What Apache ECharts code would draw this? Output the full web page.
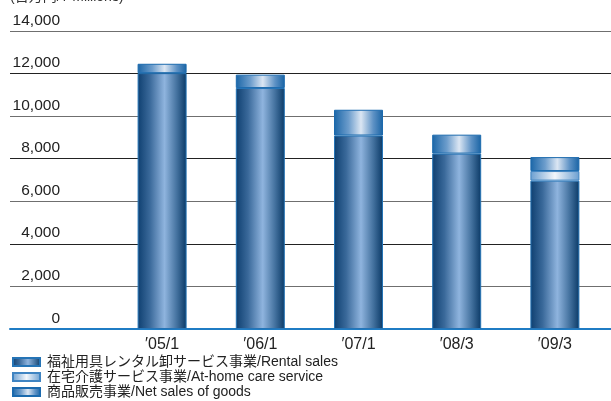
<!DOCTYPE html>
<html>
<head>
<meta charset="utf-8">
<script src="https://cdn.jsdelivr.net/npm/echarts@6/dist/echarts.min.js"></script>
<style>html,body{margin:0;padding:0;background:#fff;}#c{width:611px;height:401px;}</style>
</head>
<body>
<div id="c"></div>
<script>
const categories = ['′05/1', '′06/1', '′07/1', '′08/3', '′09/3'];
const rentalSales = [12020, 11320, 9090, 8240, 6970];
const homeCare = [null, null, null, null, 450];
const goodsSales = [440, 630, 1210, 890, 655];
const seriesNames = ['福祉用具レンタル卸サービス事業/Rental sales', '在宅介護サービス事業/At-home care service', '商品販売事業/Net sales of goods'];
const yMin = 0, yMax = 14000, yStep = 2000;

const FONT = '"Liberation Sans", Arial, "Noto Sans CJK JP", sans-serif';
function grad(stops) {
  return new echarts.graphic.LinearGradient(0, 0, 1, 0, stops.map(s => ({offset: s[0], color: s[1]})));
}
const rentalColor = grad([[0,'#0e3f70'],[0.25,'#3a699a'],[0.55,'#8fb4de'],[0.8,'#44729f'],[1,'#0a3966']]);
const homeColor = grad([[0,'#6a9ed0'],[0.5,'#f2f6fb'],[1,'#6a9ed0']]);
const goodsColor = grad([[0,'#1b66a7'],[0.3,'#6d9dcc'],[0.55,'#dbe6f3'],[0.8,'#5e92c5'],[1,'#1963a4']]);

const chart = echarts.init(document.getElementById('c'), null, {renderer: 'canvas'});
chart.setOption({
  animation: false,
  backgroundColor: '#fff',
  graphic: [{
    type: 'text', left: 10, top: -10,
    style: {text: '(百万円/¥ Millions)', fontSize: 14, fill: '#333', fontFamily: FONT}
  }],
  legend: {
    orient: 'vertical', left: 12, top: 355, padding: 0, height: 60,
    itemWidth: 27, itemHeight: 8, itemGap: 1,
    data: seriesNames,
    textStyle: {fontSize: 14, color: '#222', fontFamily: FONT, lineHeight: 14, padding: [0,0,0,2]},
    icon: 'rect', selectedMode: false
  },
  grid: [
    {left: 10, right: 0, top: 31, bottom: 72},
    {left: 113, right: 7, top: 31, bottom: 72}
  ],
  xAxis: [
    {type: 'category', gridIndex: 0, data: [''], axisTick: {show: false}, axisLabel: {show: false},
     axisLine: {lineStyle: {color: '#1f7cc4', width: 2}}},
    {type: 'category', gridIndex: 1, data: categories, axisTick: {show: false}, axisLine: {show: false},
     axisLabel: {fontSize: 16, color: '#222', fontFamily: FONT, margin: 8}, z: 10}
  ],
  yAxis: [
    {type: 'value', gridIndex: 0, min: yMin, max: yMax, interval: yStep,
     axisLine: {show: false}, axisTick: {show: false},
     axisLabel: {inside: true, margin: 50, align: 'right', verticalAlign: 'bottom', padding: [0,0,3,0],
       fontSize: 15.5, color: '#222', fontFamily: FONT,
       formatter: v => v.toLocaleString('en-US')},
     splitLine: {lineStyle: {color: ['#222', '#6f6f6f'], width: 1.2}}},
    {type: 'value', gridIndex: 1, min: yMin, max: yMax, interval: yStep, show: false, splitLine: {show: false}}
  ],
  series: [
    {name: seriesNames[0], type: 'bar', xAxisIndex: 1, yAxisIndex: 1, stack: 's', data: rentalSales, barWidth: 49,
     itemStyle: {color: rentalColor, borderColor: '#2574b6', borderWidth: 1}},
    {name: seriesNames[1], type: 'bar', xAxisIndex: 1, yAxisIndex: 1, stack: 's', data: homeCare, barWidth: 49,
     itemStyle: {color: homeColor, borderColor: '#3f84c2', borderWidth: 1}},
    {name: seriesNames[2], type: 'bar', xAxisIndex: 1, yAxisIndex: 1, stack: 's', data: goodsSales, barWidth: 49,
     itemStyle: {color: goodsColor, borderColor: '#1b6aae', borderWidth: 1}}
  ]
});
</script>
</body>
</html>
